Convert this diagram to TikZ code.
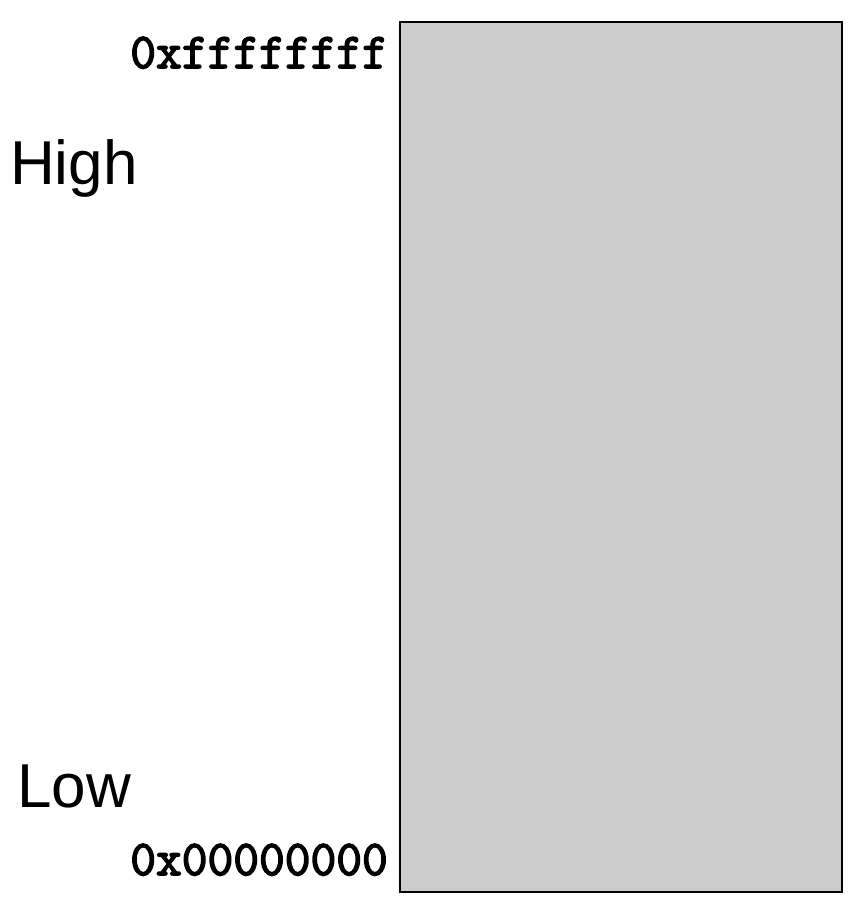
\documentclass[tikz,border=0pt]{standalone}
\usepackage{fontspec}
\setmainfont{Liberation Sans}
\newfontfamily\addrfont{Latin Modern Mono}[FakeBold=3]
\usepackage{tikz}
\usetikzlibrary{positioning}
\definecolor{memgray}{HTML}{CCCCCC}

\begin{document}
\begin{tikzpicture}[x=1pt, y=-1pt,
    mem/.style={rectangle, draw=black, line width=2pt, fill=memgray,
                minimum width=442pt, minimum height=870pt, inner sep=0pt},
    addr/.style={anchor=base east, inner sep=0pt,
                 font=\addrfont\fontsize{50}{50}\selectfont},
    level/.style={anchor=base west, inner sep=0pt,
                  font=\fontsize{62}{62}\selectfont}]

  \useasboundingbox (0,0) rectangle (856,904);

  \node[mem]   (space) at (621,457) {};
  \node[addr]  (top)   at (388, 68) {0xffffffff};
  \node[addr]  (bot)   at (388,875) {0x00000000};
  \node[level] (high)  at (10,185)  {High};
  \node[level] (low)   at (17,807)  {Low};
\end{tikzpicture}
\end{document}
